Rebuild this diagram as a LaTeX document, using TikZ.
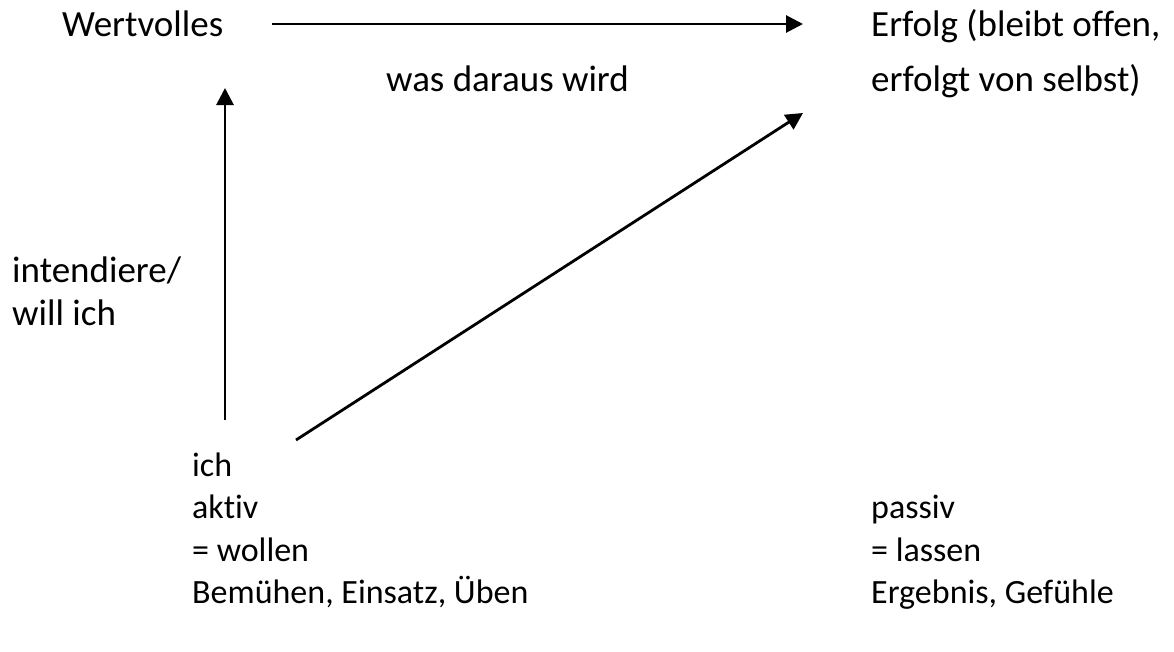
\documentclass[tikz,border=0pt]{standalone}
\usepackage{fontspec}
\setmainfont{Carlito}[Ligatures={NoCommon}]
\usetikzlibrary{arrows.meta}
\begin{document}
\begin{tikzpicture}[x=1pt,y=-1pt,
  lbl/.style={anchor=base west,inner sep=0pt,font=\fontsize{37}{42}\selectfont},
  sml/.style={anchor=base west,inner sep=0pt,font=\fontsize{34}{42}\selectfont},
  arr/.style={line width=2.8pt,-{Triangle[length=17pt,width=17pt]}}]
\useasboundingbox (0,0) rectangle (1174,651);
\node[lbl] (wert) at (62,36) {Wertvolles};
\node[lbl] (erf1) at (871,36) {Erfolg (bleibt offen,};
\node[lbl] (erf2) at (871,91) {erfolgt von selbst)};
\node[lbl] (was) at (386,91) {was daraus wird};
\node[lbl] (int1) at (12,282) {intendiere/};
\node[lbl] (int2) at (12,325) {will ich};
\node[sml] (ich) at (192,476) {ich};
\node[sml] (akt) at (192,518) {aktiv};
\node[sml] (wol) at (192,561) {= wollen};
\node[sml] (bem) at (192,603) {Bemühen, Einsatz, Üben};
\node[sml] (pas) at (871,518) {passiv};
\node[sml] (las) at (871,561) {= lassen};
\node[sml] (erg) at (871,603) {Ergebnis, Gefühle};
\coordinate (h1) at (272,24);
\coordinate (h2) at (803,24);
\coordinate (v1) at (225,420);
\coordinate (v2) at (225,88);
\coordinate (d1) at (296,440);
\coordinate (d2) at (803,113);
\draw[arr] (h1) -- (h2);
\draw[arr] (v1) -- (v2);
\draw[arr] (d1) -- (d2);
\end{tikzpicture}
\end{document}
